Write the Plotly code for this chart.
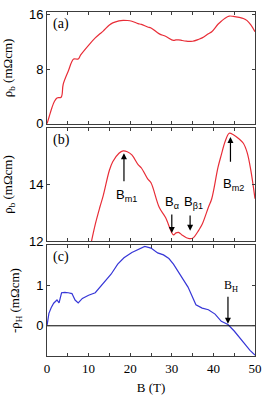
import plotly.graph_objects as go

# Panel (a)/(b): rho_b vs B (same curve, (b) is zoomed)
B_rho = [0, 0.5, 1.2, 1.8, 2.4, 3.4, 3.9, 5.1, 6.4, 7.5, 8.1, 10.4, 11.6, 12.7, 13.5,
         15.0, 15.8, 17.3, 18.3, 19.3, 20.4, 21.9, 22.7, 24.2, 25.0, 27.0, 28.5, 30.4,
         31.0, 31.6, 32.5, 33.5, 34.2, 35.0, 36.5, 37.3, 38.8, 39.6, 41.1, 41.9, 42.8,
         43.8, 44.8, 46.2, 47.2, 48.1, 49.0, 50.0]
rho_b = [0.0, 1.0, 2.4, 3.3, 3.8, 3.9, 5.8, 7.7, 9.5, 9.5, 10.1, 11.8, 12.6, 13.2, 13.6,
         14.5, 14.8, 15.1, 15.18, 15.15, 15.04, 14.7, 14.58, 14.2, 14.06, 13.19, 12.84,
         12.23, 12.3, 12.32, 12.22, 12.13, 12.1, 12.11, 12.4, 12.6, 13.2, 13.5, 14.6,
         15.04, 15.5, 15.8, 15.75, 15.6, 15.45, 15.13, 14.5, 13.5]

# Panel (c): -rho_H vs B
B_hall = [0, 0.46, 1.0, 1.6, 2.4, 2.9, 3.5, 4.3, 5.1, 6.0, 6.75, 7.5, 8.5, 10.0, 11.6,
          13.5, 15.4, 17.0, 18.5, 20.4, 22.0, 23.5, 25.0, 26.6, 28.0, 28.5, 29.3, 30.4,
          31.9, 33.9, 35.8, 37.3, 38.8, 40.4, 41.9, 43.5, 45.0, 46.9, 48.8, 50.0]
rho_h = [0.0, 0.31, 0.45, 0.56, 0.64, 0.57, 0.82, 0.83, 0.82, 0.8, 0.64, 0.57, 0.68,
         0.76, 0.82, 1.04, 1.28, 1.53, 1.69, 1.82, 1.9, 1.97, 1.93, 1.81, 1.76, 1.73,
         1.67, 1.53, 1.28, 0.96, 0.52, 0.44, 0.4, 0.29, 0.11, 0.03, -0.13, -0.37, -0.61,
         -0.73]

x_ticks = [0, 10, 20, 30, 40, 50]
x_all = [0, 5, 10, 15, 20, 25, 30, 35, 40, 45, 50]

RED = "rgb(232,45,55)"
BLUE = "rgb(55,55,215)"
AX = "rgb(60,60,60)"
SERIF = "Liberation Serif, Times New Roman, serif"
SANS = "Liberation Sans, Arial, sans-serif"

fig = go.Figure()
fig.add_trace(go.Scatter(x=B_rho, y=rho_b, mode="lines", line=dict(color=RED, width=1.2),
                         xaxis="x", yaxis="y", showlegend=False, line_shape="spline"))
fig.add_trace(go.Scatter(x=B_rho, y=rho_b, mode="lines", line=dict(color=RED, width=1.2),
                         xaxis="x2", yaxis="y2", showlegend=False, line_shape="spline"))
fig.add_trace(go.Scatter(x=B_hall, y=rho_h, mode="lines", line=dict(color=BLUE, width=1.2),
                         xaxis="x3", yaxis="y3", showlegend=False))
fig.add_trace(go.Scatter(x=[0, 50], y=[0, 0], mode="lines", line=dict(color="black", width=1),
                         xaxis="x3", yaxis="y3", showlegend=False))

def xax(anchor, show_labels):
    return dict(domain=[0, 1], anchor=anchor, range=[0, 50], showgrid=False, zeroline=False,
                showline=True, linecolor=AX, linewidth=1, mirror="ticks",
                ticks="inside", ticklen=3, tickcolor=AX,
                tickvals=x_all,
                ticktext=[str(v) if v in x_ticks else "" for v in x_all],
                showticklabels=show_labels,
                tickfont=dict(family=SERIF, size=13, color="black"))

def yax(anchor, dom, rng, tv, title):
    return dict(domain=dom, anchor=anchor, range=rng, showgrid=False, zeroline=False,
                showline=True, linecolor=AX, linewidth=1, mirror="ticks",
                ticks="inside", ticklen=3, tickcolor=AX, tickvals=tv,
                tickfont=dict(family=SANS, size=13, color="black"),
                title=dict(text=title, font=dict(family=SERIF, size=13, color="black"), standoff=13))

fig.update_layout(
    width=269, height=400, plot_bgcolor="white", paper_bgcolor="white",
    margin=dict(l=45, r=7, t=10, b=41),
    xaxis=xax("y", False),
    xaxis2=xax("y2", False),
    xaxis3=xax("y3", True),
    yaxis=yax("x", [0.675, 1.0], [0, 16.4], [0, 8, 16], "ρ<sub>b</sub> (mΩcm)"),
    yaxis2=yax("x2", [0.333, 0.664], [12, 16], [12, 14], "ρ<sub>b</sub> (mΩcm)"),
    yaxis3=yax("x3", [0, 0.322], [-0.75, 2.0], [0, 1], "-ρ<sub>H</sub> (mΩcm)"),
)
fig.layout.xaxis3.title = dict(text="B (T)", font=dict(family=SERIF, size=13, color="black"), standoff=8)

anns = []
for lab, xr, yr in [("(a)", "x", "y"), ("(b)", "x2", "y2"), ("(c)", "x3", "y3")]:
    anns.append(dict(text=lab, xref=xr + " domain", yref=yr + " domain", x=0.02, y=0.98,
                     xanchor="left", yanchor="top", showarrow=False,
                     font=dict(family=SERIF, size=14, color="black")))

def arrow(x, y_head, y_tail, xr, yr):
    return dict(x=x, y=y_head, ax=x, ay=y_tail, xref=xr, yref=yr, axref=xr, ayref=yr,
                text="", showarrow=True, arrowhead=2, arrowsize=1, arrowwidth=1.2, arrowcolor="black")

anns += [
    arrow(18.5, 15.1, 14.06, "x2", "y2"),
    arrow(30.0, 12.3, 13.0, "x2", "y2"),
    arrow(34.4, 12.38, 12.96, "x2", "y2"),
    arrow(44.1, 15.67, 14.75, "x2", "y2"),
    arrow(43.5, 0.05, 0.76, "x3", "y3"),
]

def label(txt, x, y, xr, yr, font=SANS, size=13):
    return dict(text=txt, x=x, y=y, xref=xr, yref=yr, showarrow=False,
                font=dict(family=font, size=size, color="black"))

anns += [
    label("B<sub>m1</sub>", 19.0, 13.62, "x2", "y2"),
    label("B<sub>α</sub>", 30.0, 13.36, "x2", "y2"),
    label("B<sub>β1</sub>", 35.3, 13.36, "x2", "y2"),
    label("B<sub>m2</sub>", 44.8, 14.0, "x2", "y2"),
    label("B<sub>H</sub>", 44.3, 0.98, "x3", "y3", font=SERIF, size=12),
]
fig.update_layout(annotations=anns)
fig.write_html("out.html")
